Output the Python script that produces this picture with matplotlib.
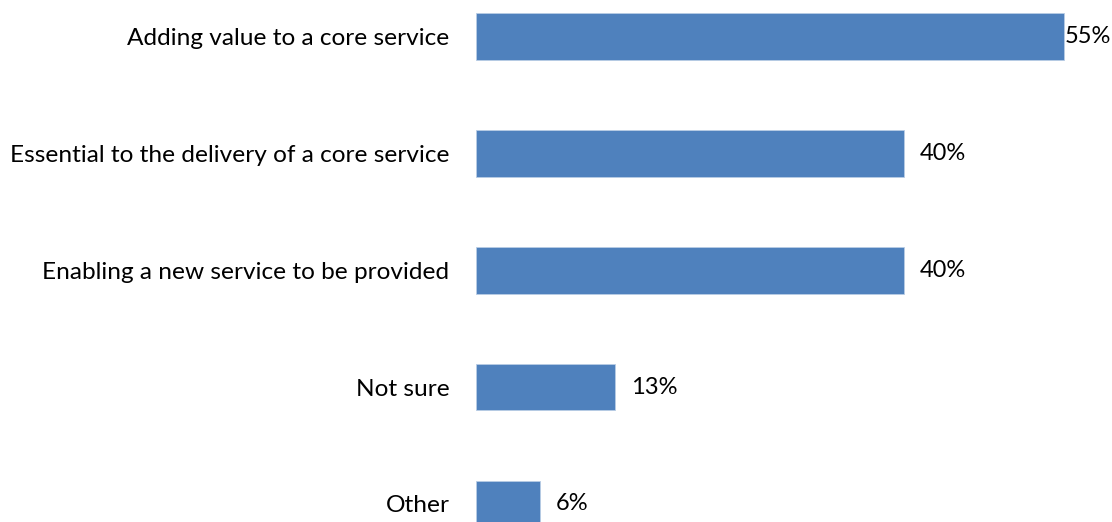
import matplotlib
matplotlib.use("Agg")
import matplotlib.pyplot as plt
from matplotlib.transforms import offset_copy

categories = [
    "Adding value to a core service",
    "Essential to the delivery of a core service",
    "Enabling a new service to be provided",
    "Not sure",
    "Other",
]
values = [55, 40, 40, 13, 6]
value_labels = ["55%", "40%", "40%", "13%", "6%"]

plt.rcParams["font.family"] = ["Lato", "DejaVu Sans"]

W, H, DPI = 1112, 522, 100
fig = plt.figure(figsize=(W / DPI, H / DPI), dpi=DPI)
ax = fig.add_axes([476 / W, 0, 1 - 476 / W, 1])

ypos = list(range(len(categories)))
ax.barh(ypos, values, height=0.40, color="#4F81BD", edgecolor="#B9CDE5",
        linewidth=0.6)

ax.set_xlim(0, 59.5)
ax.set_ylim(4.154, -0.312)

ax.set_yticks(ypos)
ax.set_yticklabels(categories, fontsize=17.6, color="#000000")
ax.tick_params(axis="y", length=0, pad=19)
ax.set_xticks([])
for s in ax.spines.values():
    s.set_visible(False)

fig.canvas.draw()
renderer = fig.canvas.get_renderer()
for y, v, lab in zip(ypos, values, value_labels):
    tr = offset_copy(ax.transData, fig=fig, x=16, y=0, units="dots")
    t = ax.text(v, y, lab, transform=tr, ha="left", va="center",
                fontsize=17, color="#000000")
    bb = t.get_window_extent(renderer)
    if bb.x1 > W - 2:
        t.set_transform(offset_copy(ax.transData, fig=fig, x=1, y=0, units="dots"))

fig.savefig("out.png", dpi=DPI)
